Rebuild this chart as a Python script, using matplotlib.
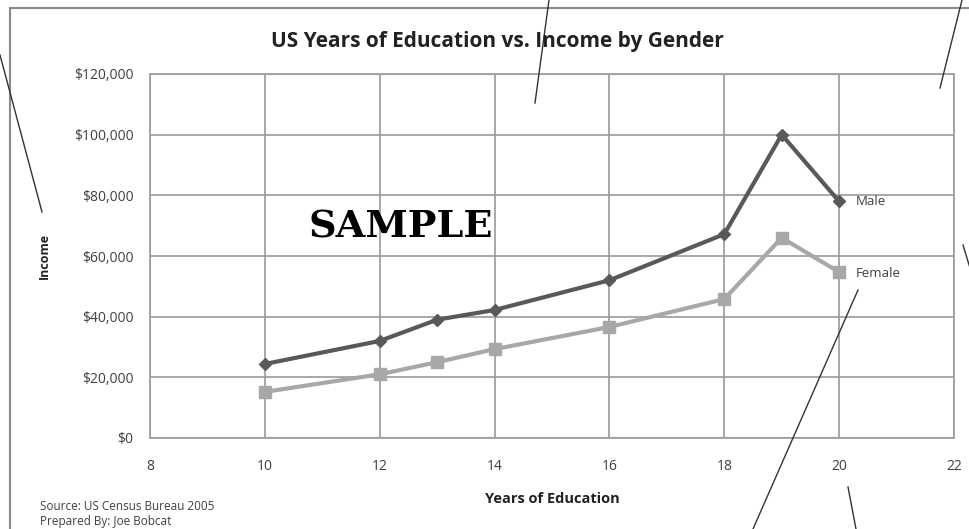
import matplotlib.pyplot as plt
from matplotlib.lines import Line2D
from matplotlib.patches import Rectangle
from matplotlib.ticker import FuncFormatter

# Data
years = [10, 12, 13, 14, 16, 18, 19, 20]
male_income = [24400, 32000, 39000, 42200, 52000, 67200, 100000, 78000]
female_income = [15200, 21000, 25000, 29300, 36600, 45800, 66000, 54700]
x_ticks = [8, 10, 12, 14, 16, 18, 20, 22]
y_ticks = [0, 20000, 40000, 60000, 80000, 100000, 120000]

plt.rcParams['font.family'] = ['Open Sans', 'DejaVu Sans']

W, H = 970, 529
fig = plt.figure(figsize=(W / 100, H / 100), dpi=100)

# outer chart border (runs off the right and bottom of the crop)
fig.patches.append(Rectangle((10 / W, -0.1), 1.0, 1 - 8 / H + 0.1, transform=fig.transFigure,
                             fill=False, edgecolor='#8a8a8a', linewidth=1.5, zorder=0))

ax = fig.add_axes([150 / W, 1 - 438 / H, (954 - 150) / W, (438 - 74) / H])

ax.plot(years, male_income, color='#595959', linewidth=3, marker='D', markersize=6.5, zorder=3)
ax.plot(years, female_income, color='#a8a8a8', linewidth=3, marker='s', markersize=9, zorder=3)

ax.annotate('Male', (years[-1], male_income[-1]), xytext=(12, 0), textcoords='offset points',
            fontsize=9.5, color='#404040', va='center')
ax.annotate('Female', (years[-1], female_income[-1]), xytext=(12, -1), textcoords='offset points',
            fontsize=9.5, color='#404040', va='center')

ax.set_xlim(8, 22)
ax.set_ylim(0, 120000)
ax.set_xticks(x_ticks)
ax.set_yticks(y_ticks)
ax.yaxis.set_major_formatter(FuncFormatter(lambda v, p: f'${v:,.0f}'))
ax.tick_params(length=0, labelsize=10, labelcolor='#404040')
ax.tick_params(axis='x', pad=15)
ax.tick_params(axis='y', pad=12)
ax.grid(True, color='#9a9a9a', linewidth=1.2)
ax.set_axisbelow(True)
for s in ax.spines.values():
    s.set_color('#9a9a9a')
    s.set_linewidth(1.2)

ax.set_xlabel('Years of Education', fontsize=10.5, fontweight='bold', color='#222222')
ax.set_ylabel('Income', fontsize=9, fontweight='bold', color='#222222')
ax.xaxis.set_label_coords(0.5, -0.149)
ax.yaxis.set_label_coords(-0.123, 0.5)

fig.text(497 / W, 1 - 42 / H, 'US Years of Education vs. Income by Gender', ha='center', va='center',
         fontsize=15, fontweight='bold', color='#222222')

ax.text(0.197, 0.552, 'SAMPLE', transform=ax.transAxes, fontsize=27.5, fontweight='heavy',
        family='DejaVu Serif', color='black', zorder=4)

fig.text(40 / W, 1 - 506 / H, 'Source: US Census Bureau 2005', fontsize=8.5, color='#404040', va='center')
fig.text(40 / W, 1 - 521 / H, 'Prepared By: Joe Bobcat', fontsize=8.5, color='#404040', va='center')

# callout lines coming in from outside the crop
callouts = [
    [(0, 55), (42, 212)],
    [(549, 0), (535, 103)],
    [(962, 0), (940, 88)],
    [(963, 245), (970, 268)],
    [(858, 290), (753, 529)],
    [(848, 487), (856, 529)],
]
for pts in callouts:
    xs = [p[0] / W for p in pts]
    ys = [1 - p[1] / H for p in pts]
    fig.add_artist(Line2D(xs, ys, transform=fig.transFigure, color='#333333', linewidth=1))

fig.savefig('out.png', dpi=100, facecolor='white')
